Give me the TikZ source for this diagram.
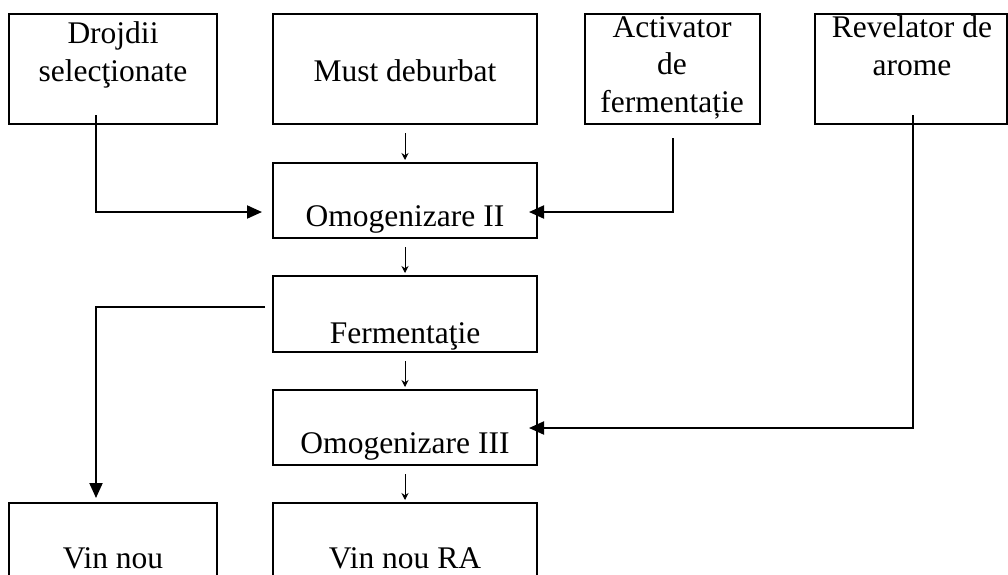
\documentclass[tikz,border=0pt]{standalone}
\usepackage{fontspec}
\setmainfont{Liberation Serif}
\usetikzlibrary{arrows.meta}
\begin{document}
\begin{tikzpicture}[x=1pt,y=-1pt,
  box/.style={draw, line width=2.3pt, inner sep=0pt, outer sep=0pt, anchor=north west},
  lbl/.style={font=\fontsize{31.5}{37.5}\selectfont, align=center, anchor=base, inner sep=0pt},
  feed/.style={line width=2pt, -{Triangle[length=15pt,width=13pt]}},
  flow/.style={line width=1pt, -{Stealth[length=7pt,width=7pt]}, shorten <=9pt, shorten >=3pt},
]
\useasboundingbox (0,0) rectangle (1008,574);
\clip (0,0) rectangle (1008,574);

% inputs (top row)
\node[box, minimum width=208pt, minimum height=110pt] (drojdii) at (9,14) {};
\node[box, minimum width=264pt, minimum height=110pt] (must)    at (273,14) {};
\node[box, minimum width=175pt, minimum height=110pt] (activ)   at (585,14) {};
\node[box, minimum width=192pt, minimum height=110pt] (revel)   at (815,14) {};

% process chain
\node[box, minimum width=264pt, minimum height=75pt]  (omog2) at (273,163) {};
\node[box, minimum width=264pt, minimum height=76pt]  (ferm)  at (273,276) {};
\node[box, minimum width=264pt, minimum height=75pt]  (omog3) at (273,390) {};

% products (bottom row)
\node[box, minimum width=208pt, minimum height=100pt] (vinnou) at (9,503) {};
\node[box, minimum width=264pt, minimum height=100pt] (vinra)  at (273,503) {};

% labels (base anchor = baseline of the last line)
\node[lbl] (drojdii-t) at (113,81)  {Drojdii\\selecţionate};
\node[lbl] (must-t)    at (405,81)  {Must deburbat};
\node[lbl] (activ-t)   at (672,112) {Activator\\de\\fermentație};
\node[lbl] (revel-t)   at (912,75)  {Revelator de\\arome};
\node[lbl] (omog2-t)   at (405,226) {Omogenizare II};
\node[lbl] (ferm-t)    at (405,343) {Fermentaţie};
\node[lbl] (omog3-t)   at (405,453) {Omogenizare III};
\node[lbl] (vinnou-t)  at (113,568) {Vin nou};
\node[lbl] (vinra-t)   at (405,568) {Vin nou RA};

% main flow
\draw[flow] (must)  -- (omog2);
\draw[flow] (omog2) -- (ferm);
\draw[flow] (ferm)  -- (omog3);
\draw[flow] (omog3) -- (vinra);

% additions and side branch
\coordinate (d0) at (96,115);  \coordinate (d1) at (262,212);
\coordinate (a0) at (673,138); \coordinate (a1) at (529,212);
\coordinate (r0) at (913,115); \coordinate (r1) at (529,428);
\coordinate (f0) at (265,307); \coordinate (f1) at (96,498);
\draw[feed] (d0) |- (d1);
\draw[feed] (a0) |- (a1);
\draw[feed] (r0) |- (r1);
\draw[feed] (f0) -| (f1);
\end{tikzpicture}
\end{document}
